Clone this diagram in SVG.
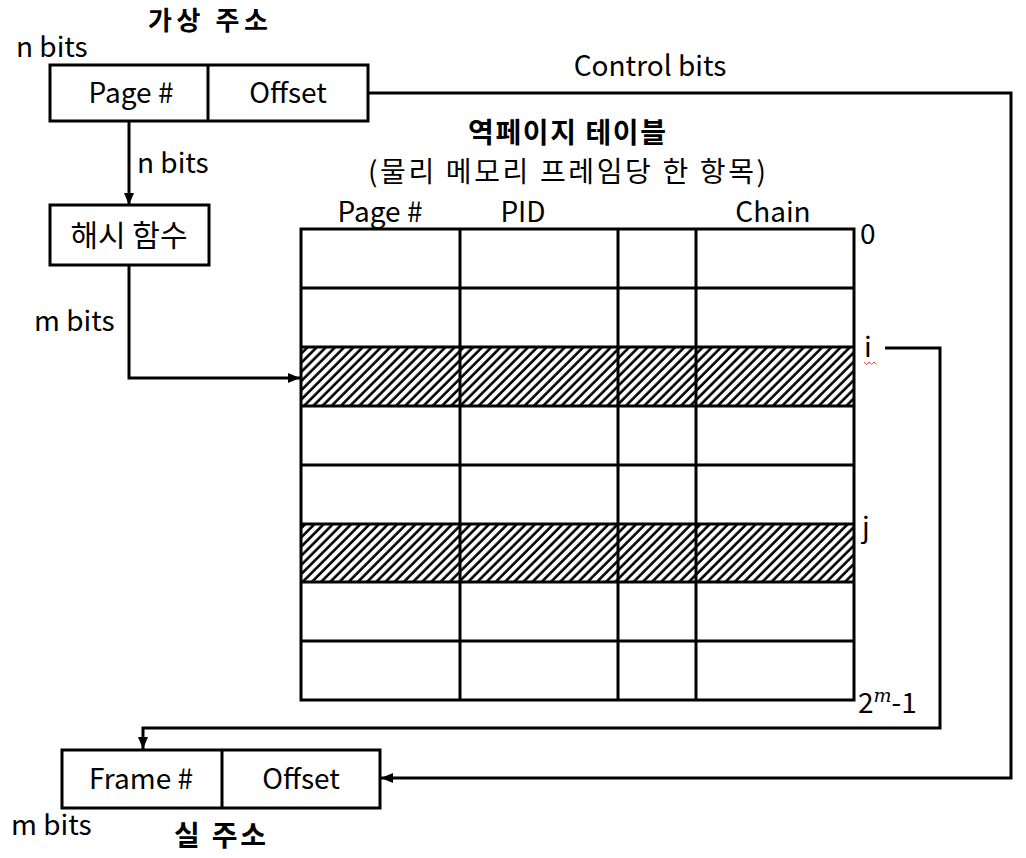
<svg xmlns="http://www.w3.org/2000/svg" width="1026" height="858" viewBox="0 0 1026 858">
<style>
text{font-family:"Noto Sans CJK KR","Noto Sans",sans-serif;font-size:28px;fill:#000}
.k{font-size:30px}
.b{font-weight:bold}
.c{text-anchor:middle}
.box{fill:#fff;stroke:#000;stroke-width:3}
.ln{fill:none;stroke:#000;stroke-width:3}
.cn{fill:none;stroke:#000;stroke-width:3}
</style>
<defs>
<pattern id="hatch" patternUnits="userSpaceOnUse" width="6.5" height="6.5" patternTransform="rotate(45)">
<rect width="6.5" height="6.5" fill="#fff"/>
<line x1="1.5" y1="0" x2="1.5" y2="6.5" stroke="#000" stroke-width="2.6"/>
</pattern>
<marker id="arr" markerUnits="userSpaceOnUse" markerWidth="12" markerHeight="10" refX="12" refY="5" orient="auto">
<path d="M0,0 L12,5 L0,10 Z" fill="#000"/>
</marker>
</defs>
<rect width="1026" height="858" fill="#fff"/>

<g id="virtual-address">
<text class="b c" x="208" y="30" font-size="26" textLength="120" lengthAdjust="spacing" style="font-size:26px">가상 주소</text>
<text x="16" y="57">n bits</text>
<rect class="box" x="50" y="65" width="318" height="56"/>
<line class="ln" x1="208" y1="65" x2="208" y2="121"/>
<text class="c" x="131" y="103">Page #</text>
<text class="c" x="288" y="103">Offset</text>
</g>

<g id="hash-function">
<rect class="box" x="50" y="205" width="159" height="60"/>
<text class="k c" x="129" y="246">해시 함수</text>
</g>

<g id="inverted-page-table">
<text class="b c" x="567" y="143" textLength="198" lengthAdjust="spacing">역페이지 테이블</text>
<text class="c" x="567" y="182" textLength="398" lengthAdjust="spacing">(물리 메모리 프레임당 한 항목)</text>
<text class="c" x="380" y="222">Page #</text>
<text class="c" x="523" y="222">PID</text>
<text class="c" x="773" y="222">Chain</text>
<rect x="301" y="347" width="553" height="59" fill="url(#hatch)"/>
<rect x="301" y="524" width="553" height="58" fill="url(#hatch)"/>
<rect class="ln" x="301" y="229" width="553" height="471"/>
<g class="ln">
<line x1="301" y1="288" x2="854" y2="288"/>
<line x1="301" y1="347" x2="854" y2="347"/>
<line x1="301" y1="406" x2="854" y2="406"/>
<line x1="301" y1="465" x2="854" y2="465"/>
<line x1="301" y1="524" x2="854" y2="524"/>
<line x1="301" y1="582" x2="854" y2="582"/>
<line x1="301" y1="641" x2="854" y2="641"/>
<line x1="460" y1="229" x2="460" y2="700"/>
<line x1="618" y1="229" x2="618" y2="700"/>
<line x1="696" y1="229" x2="696" y2="700"/>
</g>
<text x="860" y="244">0</text>
<text x="864" y="357">i</text>
<path d="M864,362 l2.5,2.5 2.5,-2.5 2.5,2.5 2.5,-2.5 2.5,2.5" fill="none" stroke="#e05040" stroke-width="1"/>
<text x="862" y="537">j</text>
<text x="858" y="713">2<tspan font-family="DejaVu Serif,serif" font-style="italic" font-size="19" dy="-11">m</tspan><tspan dy="11">-1</tspan></text>
</g>

<g id="physical-address">
<rect class="box" x="62" y="750" width="318" height="58"/>
<line class="ln" x1="222" y1="750" x2="222" y2="808"/>
<text class="c" x="141" y="789">Frame #</text>
<text class="c" x="301" y="789">Offset</text>
<text x="11" y="835">m bits</text>
<text class="b c" x="220" y="846" textLength="92" lengthAdjust="spacing">실 주소</text>
</g>

<g id="connectors">
<path class="cn" d="M129,121 V205" marker-end="url(#arr)"/>
<text x="137" y="173">n bits</text>
<path class="cn" d="M129,265 V378 H300" marker-end="url(#arr)"/>
<text x="34" y="331">m bits</text>
<path class="cn" d="M368,93 H1011 V778 H381" marker-end="url(#arr)"/>
<text class="c" x="650" y="76">Control bits</text>
<path class="cn" d="M885,348 H940 V728 H143 V749" marker-end="url(#arr)"/>
</g>
</svg>
